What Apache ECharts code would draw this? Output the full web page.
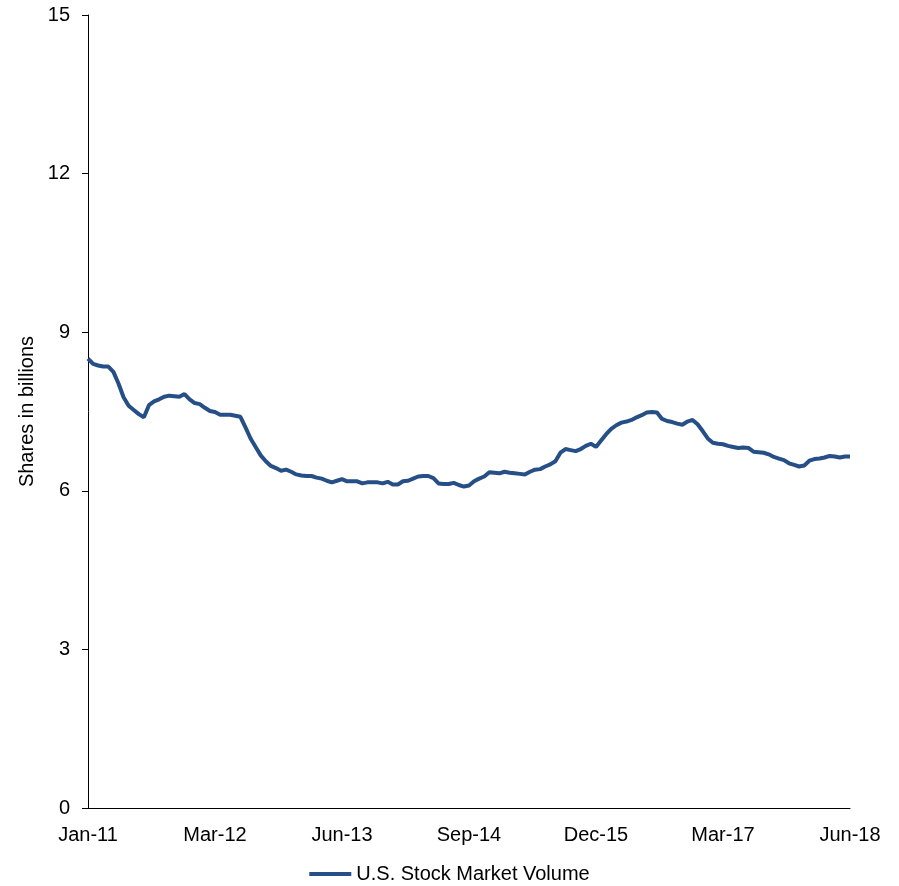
<!DOCTYPE html>
<html>
<head>
<meta charset="utf-8">
<script src="https://cdn.jsdelivr.net/npm/echarts@6/dist/echarts.min.js"></script>
<style>
html,body{margin:0;padding:0;background:#fff;}
#chart{width:899px;height:886px;}
</style>
</head>
<body>
<div id="chart"></div>
<script>
// Tick labels along the x axis (evenly spaced, every 25 points)
var tickLabels = ['Jan-11', 'Mar-12', 'Jun-13', 'Sep-14', 'Dec-15', 'Mar-17', 'Jun-18'];
var pointsPerTick = 25;

// U.S. Stock Market Volume, shares in billions
var volume = [
  8.50, 8.40, 8.37, 8.35, 8.35, 8.25, 8.03, 7.77, 7.61, 7.53,
  7.45, 7.39, 7.62, 7.69, 7.73, 7.78, 7.80, 7.79, 7.78, 7.83,
  7.73, 7.66, 7.64, 7.57, 7.51, 7.49, 7.44, 7.44, 7.44, 7.42,
  7.40, 7.20, 6.99, 6.83, 6.67, 6.56, 6.47, 6.43, 6.38, 6.40,
  6.36, 6.31, 6.29, 6.28, 6.28, 6.25, 6.23, 6.19, 6.16, 6.19,
  6.22, 6.18, 6.18, 6.18, 6.14, 6.16, 6.16, 6.16, 6.14, 6.17,
  6.12, 6.12, 6.18, 6.19, 6.23, 6.27, 6.28, 6.28, 6.24, 6.14,
  6.13, 6.13, 6.15, 6.11, 6.08, 6.10, 6.18, 6.23, 6.27, 6.35,
  6.34, 6.33, 6.36, 6.34, 6.33, 6.32, 6.31, 6.36, 6.40, 6.41,
  6.46, 6.50, 6.56, 6.72, 6.79, 6.77, 6.75, 6.79, 6.85, 6.89,
  6.83, 6.95, 7.07, 7.17, 7.24, 7.29, 7.31, 7.34, 7.39, 7.43,
  7.48, 7.49, 7.48, 7.36, 7.32, 7.30, 7.27, 7.25, 7.31, 7.34,
  7.26, 7.13, 6.99, 6.91, 6.89, 6.88, 6.85, 6.83, 6.81, 6.82,
  6.81, 6.74, 6.73, 6.72, 6.69, 6.64, 6.61, 6.58, 6.52, 6.49,
  6.46, 6.48, 6.57, 6.60, 6.61, 6.63, 6.66, 6.65, 6.63, 6.65,
  6.65
];

var seriesName = 'U.S. Stock Market Volume';
var yTicks = [0, 3, 6, 9, 12, 15];

var categories = volume.map(function (v, i) {
  return (i % pointsPerTick === 0) ? tickLabels[i / pointsPerTick] : '';
});

var chart = echarts.init(document.getElementById('chart'), null, {renderer: 'canvas'});
var font = 'Liberation Sans, Arial, sans-serif';
var lineColor = '#254F86';
chart.setOption({
  animation: false,
  backgroundColor: '#ffffff',
  grid: {left: 88, right: 49, top: 15, bottom: 78, containLabel: false},
  legend: {
    bottom: 2,
    left: 'center',
    padding: 0,
    icon: 'rect',
    itemWidth: 42,
    itemHeight: 4,
    itemGap: 10,
    itemStyle: {color: lineColor},
    textStyle: {fontFamily: font, fontSize: 20, color: '#000'},
    data: [seriesName]
  },
  xAxis: {
    type: 'category',
    data: categories,
    boundaryGap: false,
    axisLine: {lineStyle: {color: '#000', width: 1}},
    axisTick: {show: false},
    axisLabel: {
      interval: function (i) { return i % pointsPerTick === 0; },
      margin: 17,
      fontFamily: font, fontSize: 20, color: '#000'
    },
    splitLine: {show: false}
  },
  yAxis: {
    type: 'value',
    min: yTicks[0],
    max: yTicks[yTicks.length - 1],
    interval: 3,
    name: 'Shares in billions',
    nameLocation: 'middle',
    nameRotate: 90,
    nameGap: 51,
    nameMoveOverlap: false,
    nameTextStyle: {fontFamily: font, fontSize: 20, color: '#000'},
    axisLine: {show: true, lineStyle: {color: '#000', width: 1}},
    axisTick: {show: true, length: 6, lineStyle: {color: '#000'}},
    axisLabel: {margin: 18, fontFamily: font, fontSize: 20, color: '#000'},
    splitLine: {show: false}
  },
  series: [{
    name: seriesName,
    type: 'line',
    data: volume,
    symbol: 'none',
    smooth: false,
    lineStyle: {color: lineColor, width: 4},
    itemStyle: {color: lineColor}
  }]
});
</script>
</body>
</html>
